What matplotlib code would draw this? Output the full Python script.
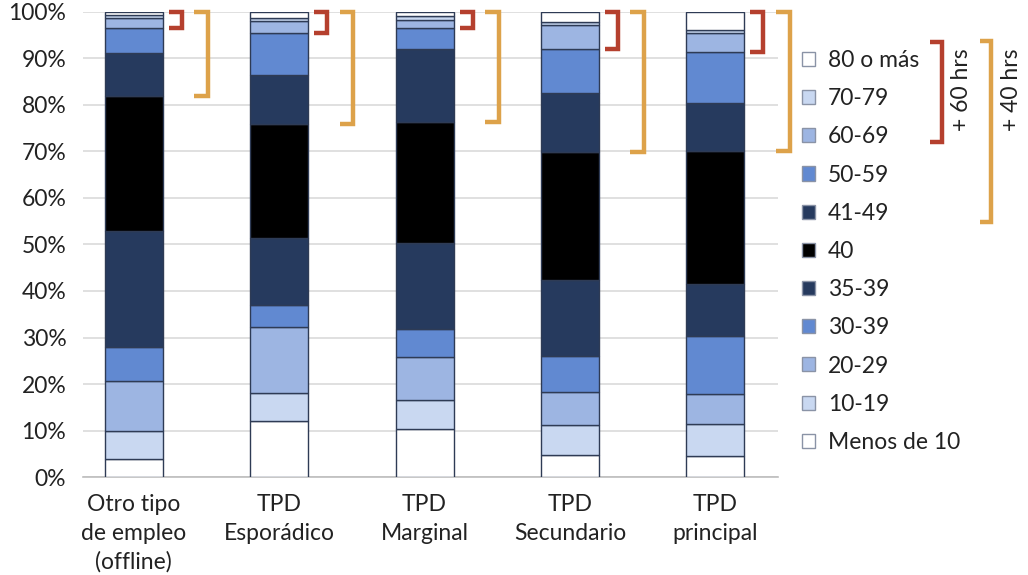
import matplotlib
matplotlib.use("Agg")
import matplotlib.pyplot as plt
from matplotlib.patches import Patch
from matplotlib.lines import Line2D
import numpy as np

plt.rcParams['font.family'] = ['Lato', 'DejaVu Sans']

categories = ["Otro tipo\nde empleo\n(offline)", "TPD\nEsporádico", "TPD\nMarginal",
              "TPD\nSecundario", "TPD\nprincipal"]
bands = ["Menos de 10", "10-19", "20-29", "30-39", "35-39", "40",
         "41-49", "50-59", "60-69", "70-79", "80 o más"]

# share of workers (%) per weekly-hours band, bottom to top
shares = {
    "Menos de 10": [3.9, 12.1, 10.4, 4.8, 4.6],
    "10-19":       [6.1, 6.0, 6.2, 6.4, 6.8],
    "20-29":       [10.7, 14.2, 9.2, 7.1, 6.5],
    "30-39":       [7.3, 4.7, 6.0, 7.7, 12.4],
    "35-39":       [24.9, 14.4, 18.5, 16.4, 11.2],
    "40":          [28.9, 24.4, 26.0, 27.4, 28.6],
    "41-49":       [9.3, 10.5, 15.6, 12.7, 10.3],
    "50-59":       [5.3, 9.0, 4.5, 9.5, 10.8],
    "60-69":       [2.1, 2.7, 1.8, 5.1, 4.1],
    "70-79":       [0.7, 0.7, 0.8, 0.7, 0.7],
    "80 o más":    [0.8, 1.3, 1.0, 2.2, 4.0],
}

colors = {
    "Menos de 10": "#ffffff",
    "10-19": "#c9d8f1",
    "20-29": "#9db5e2",
    "30-39": "#6189d1",
    "35-39": "#263a5e",
    "40": "#000000",
    "41-49": "#263a5e",
    "50-59": "#6189d1",
    "60-69": "#9db5e2",
    "70-79": "#c9d8f1",
    "80 o más": "#ffffff",
}

RED = "#b5402e"
ORANGE = "#dda24a"
FS = 16.5

fig = plt.figure(figsize=(10.28, 5.75), dpi=100)
ax = fig.add_axes([0.0807, 0.170, 0.676, 0.810])

x = np.arange(len(categories))
width = 0.40
bottom = np.zeros(len(categories))
for b in bands:
    vals = np.array(shares[b])
    ax.bar(x, vals, width, bottom=bottom, color=colors[b],
           edgecolor="#2e3b55", linewidth=1.0, zorder=3)
    bottom += vals

# brackets marking the 60+ and 40+ hour groups on each bar
total = bottom
top60 = total - (np.array(shares["60-69"]) + np.array(shares["70-79"]) + np.array(shares["80 o más"]))
top40 = top60 - np.array(shares["50-59"]) - np.array(shares["41-49"])
for i in range(len(categories)):
    r = x[i] + width / 2
    ax.plot([r + 0.04, r + 0.13, r + 0.13, r + 0.04],
            [total[i], total[i], top60[i], top60[i]],
            color=RED, lw=3.2, solid_capstyle="butt", solid_joinstyle="miter",
            clip_on=False, zorder=4)
    ax.plot([r + 0.215, r + 0.31, r + 0.31, r + 0.215],
            [total[i], total[i], top40[i], top40[i]],
            color=ORANGE, lw=3.2, solid_capstyle="butt", solid_joinstyle="miter",
            clip_on=False, zorder=4)

ax.set_xlim(-0.35, 4.43)
ax.set_ylim(0, 100)
ax.set_yticks(np.arange(0, 101, 10))
ax.set_yticklabels([f"{v}%" for v in range(0, 101, 10)], fontsize=FS, color="#222222")
ax.set_xticks(x)
ax.set_xticklabels(categories, fontsize=FS, color="#222222", linespacing=1.45)
ax.tick_params(axis="both", length=0)
ax.tick_params(axis="y", pad=12)
ax.tick_params(axis="x", pad=12)
ax.yaxis.grid(True, color="#dadada", lw=1.2, zorder=0)
for s in ["top", "right", "left"]:
    ax.spines[s].set_visible(False)
ax.spines["bottom"].set_color("#bdbdbd")
ax.spines["bottom"].set_linewidth(1.2)

handles = [Patch(facecolor=colors[b], edgecolor="#8a93a6", linewidth=1.0, label=b)
           for b in bands[::-1]]
fig.legend(handles=handles, loc="upper left", bbox_to_anchor=(0.780, 0.913),
           frameon=False, fontsize=FS, handlelength=0.57, handleheight=0.57,
           handletextpad=0.57, labelspacing=0.75, borderpad=0, borderaxespad=0,
           labelcolor="#222222")

# legend-side brackets
def fx(px):
    return px / 1028.0

def fy(py):
    return 1 - py / 575.0

fig.add_artist(Line2D([fx(930), fx(942), fx(942), fx(930)],
                      [fy(42), fy(42), fy(142), fy(142)],
                      color=RED, lw=3.2, solid_joinstyle="miter", solid_capstyle="butt"))
fig.add_artist(Line2D([fx(980), fx(991), fx(991), fx(980)],
                      [fy(41), fy(41), fy(222), fy(222)],
                      color=ORANGE, lw=3.2, solid_joinstyle="miter", solid_capstyle="butt"))
fig.text(fx(962), fy(90), "+ 60 hrs", rotation=90, ha="center", va="center",
         fontsize=FS, color="#222222")
fig.text(fx(1011), fy(90), "+ 40 hrs", rotation=90, ha="center", va="center",
         fontsize=FS, color="#222222")

fig.savefig("out.png", dpi=100)
